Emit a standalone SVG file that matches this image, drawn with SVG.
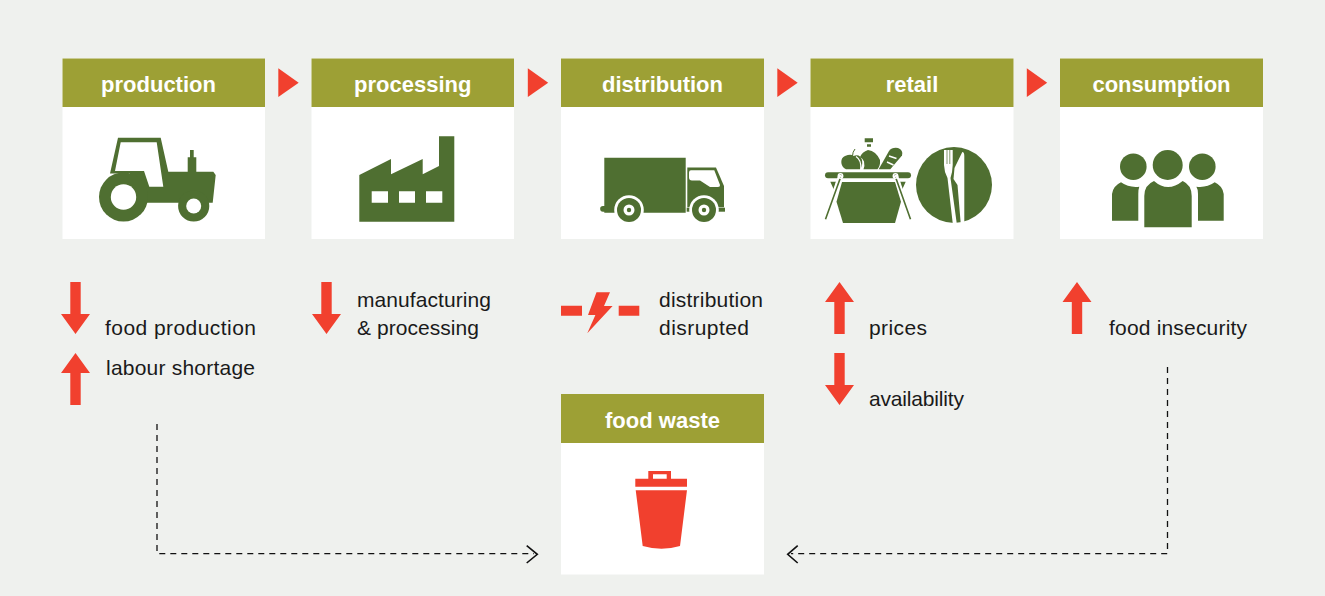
<svg xmlns="http://www.w3.org/2000/svg" width="1325" height="596" viewBox="0 0 1325 596">
<style>
.card{fill:#fff}
.hd{fill:#9da035}
.ht{font:bold 22px "Liberation Sans",Arial,sans-serif;fill:#fff;text-anchor:middle}
.lb{font:21px "Liberation Sans",Arial,sans-serif;fill:#1a1a1a}
.g{fill:#4f6f31}
.r{fill:#f1402e}
.w{fill:#fff}
.d{fill:none;stroke:#111;stroke-width:1.3;stroke-dasharray:6 5}
.c{fill:none;stroke:#111;stroke-width:1.6}
</style>
<defs>
<path id="down" d="M-5.2,0H5.2V32H14.500L0,52L-14.500,32H-5.200Z"/>
<path id="up" d="M-5.2,52H5.2V20H14.500L0,0L-14.500,20H-5.200Z"/>
</defs>
<rect width="1325" height="596" fill="#eff1ee"/>

<g id="production">
<rect class="card" x="62.500" y="58.500" width="202.500" height="180.500"/>
<rect class="hd" x="62.500" y="58.500" width="202.500" height="48.500"/>
<text class="ht" x="158.500" y="91.500">production</text>
<path class="g" d="M110,173.500L118,137.700H160.700L168.300,171.700H187.700V157.300H190V150H193.700V157.300H196.300V171.700H213.300L215.700,175L212.700,202.700H130V173.500Z"/>
<path class="w" d="M120.700,142.300H156.700L163.300,186.700H149.300L144,171H115Z"/>
<circle class="g" cx="123.500" cy="197" r="24.500"/>
<circle class="w" cx="123.500" cy="197" r="12.700"/>
<circle class="g" cx="193.700" cy="206" r="15.600"/>
<circle class="w" cx="193.700" cy="206" r="7.500"/>
</g>

<g id="processing">
<rect class="card" x="311.500" y="58.500" width="202.500" height="180.500"/>
<rect class="hd" x="311.500" y="58.500" width="202.500" height="48.500"/>
<text class="ht" x="412.700" y="91.500">processing</text>
<path class="g" d="M359.300,175L391,159V174.300L422.700,159V174.300L439,166V136.300H454.300V221.700H359.300Z"/>
<path class="w" d="M371.700,191.300H388V202.700H371.700ZM399,191.300H415V202.700H399ZM426,191.300H442.300V202.700H426Z"/>
</g>

<g id="distribution">
<rect class="card" x="561" y="58.500" width="203" height="180.500"/>
<rect class="hd" x="561" y="58.500" width="203" height="48.500"/>
<text class="ht" x="662.500" y="91.500">distribution</text>
<path class="g" d="M604.300,157.700H685.700V212.700H604.300V211.700H603A2.800,2.800 0 0 1 603,206H604.300Z"/>
<path class="g" d="M687.300,167.500H716L724,186V207.300H687.300Z"/>
<path class="w" d="M691,170.300H714.300L720,185Q720.300,187 718,187H710L700,180.500H692Q689,180.500 689,177.500V172.500Q689,170.300 691,170.300Z"/>
<rect class="g" x="686.700" y="207.700" width="38.300" height="4"/>
<circle class="w" cx="629" cy="210" r="14.800"/>
<circle class="g" cx="629" cy="210" r="12"/>
<circle class="w" cx="629" cy="210" r="5.500"/>
<circle class="g" cx="629" cy="210" r="2.200"/>
<circle class="w" cx="704" cy="210" r="14.800"/>
<circle class="g" cx="704" cy="210" r="12"/>
<circle class="w" cx="704" cy="210" r="5.500"/>
<circle class="g" cx="704" cy="210" r="2.200"/>
</g>

<g id="retail">
<rect class="card" x="810.500" y="58.500" width="203" height="180.500"/>
<rect class="hd" x="810.500" y="58.500" width="203" height="48.500"/>
<text class="ht" x="912" y="91.500">retail</text>
<rect class="g" x="825" y="172.300" width="86" height="6" rx="3"/>
<path class="g" d="M842,182H895L901,201.700L895,223H843L836.500,201.700Z"/>
<path class="g" d="M830.300,181.700H836L834,190ZM905.700,181.700H900L902,190Z"/>
<path fill="none" stroke="#fff" stroke-width="4.500" d="M840.700,175L825,219.300M895.500,175L911,219.300"/>
<path fill="none" stroke="#4f6f31" stroke-width="1.600" d="M840.700,177L825.500,219.300M895.500,177L910.500,219.300"/>
<circle fill="none" stroke="#fff" stroke-width="1.500" cx="840.500" cy="176" r="2.200"/>
<circle fill="none" stroke="#fff" stroke-width="1.500" cx="895.500" cy="176" r="2.200"/>
<path class="g" d="M845,156Q851,153.500 853.500,156Q860,153.500 862,160Q863,166 860,169.300H846Q841.300,167 841.300,162Q841.300,157.500 845,156Z"/>
<path fill="none" stroke="#4f6f31" stroke-width="1" d="M852.500,156Q852.500,152 855,149"/>
<path fill="none" stroke="#fff" stroke-width="1.200" d="M856,156.500Q861.500,160 860.800,169"/>
<path class="g" d="M868,150Q876,151 880,160Q880.500,166 877.500,169.300H863.500Q865,166 864,161.500Q862.500,158 860,157Q862,152 868,150Z"/>
<path class="g" d="M864.700,138.300H873V142.300H864.700ZM867,144.300H871V146.700H867Z"/>
<path class="g" d="M878.700,169.300L889,151Q892,147 898,148Q903.500,150 902,155.500L890.300,169.300Z"/>
<path fill="none" stroke="#fff" stroke-width="1.500" d="M889,156L896.500,158.500M887,162L893.500,165"/>
<circle class="g" cx="954" cy="185" r="38"/>
<path class="w" d="M944,150H952.700V165Q952.500,172 950.500,178L956.700,223H952.700L947.500,178Q944.200,172 944,165Z"/>
<path fill="none" stroke="#4f6f31" stroke-width="0.700" d="M947,150V164M949.800,150V164"/>
<path class="w" d="M962.300,152Q964.300,152 964.300,156V223H960.700L957.500,185L953.500,179L954.500,168Z"/>
</g>

<g id="consumption">
<rect class="card" x="1060" y="58.500" width="203" height="180.500"/>
<rect class="hd" x="1060" y="58.500" width="203" height="48.500"/>
<text class="ht" x="1161.500" y="91.500">consumption</text>
<circle class="g" cx="1133.300" cy="166.700" r="13.300"/>
<circle class="g" cx="1167.700" cy="165" r="15"/>
<circle class="g" cx="1202.300" cy="166.700" r="13.300"/>
<path class="g" d="M1121,182.300Q1129,188 1139.300,186.700Q1138.300,189 1138.300,194V220.700H1112V194Q1113,186 1121,182.300Z"/>
<path class="g" d="M1214.700,182.300Q1206.700,188 1196.400,186.700Q1198,189 1198,194V220.700H1223.700V194Q1222.700,186 1214.700,182.300Z"/>
<path class="g" d="M1154,181Q1167.700,193 1182.700,181Q1191.700,185 1191.700,196V227.300H1144.300V196Q1144.300,185 1154,181Z"/>
</g>

<g id="food-waste">
<rect class="card" x="561" y="394" width="203" height="180.500"/>
<rect class="hd" x="561" y="394" width="203" height="49"/>
<text class="ht" x="662.500" y="427.500">food waste</text>
<path class="r" d="M648.300,471H671V478.700H687V486.700H635.300V478.700H648.300ZM653,474.300V478.700H666.700V474.300Z" fill-rule="evenodd"/>
<path class="r" d="M635.700,490.300H687L680,546Q661.700,551.500 642.700,546Z"/>
</g>

<g id="connectors">
<path class="r" d="M278.300,68.300L298.700,82.700L278.300,97Z"/>
<path class="r" d="M527.800,68.300L548.200,82.700L527.800,97Z"/>
<path class="r" d="M777.300,68.300L797.700,82.700L777.300,97Z"/>
<path class="r" d="M1026.800,68.300L1047.200,82.700L1026.800,97Z"/>
<path class="d" d="M157,424V553.700H534"/>
<path class="c" d="M526.700,545.700L537.300,554.300L526.700,563"/>
<path class="d" d="M1167.500,367V553.700H791"/>
<path class="c" d="M797.700,545.700L787.700,554.300L797.700,563"/>
</g>

<g id="effects">
<use class="r" href="#down" x="75.500" y="282"/>
<text class="lb" x="105" y="335" textLength="151">food production</text>
<use class="r" href="#up" x="75.500" y="353"/>
<text class="lb" x="106" y="375" textLength="149">labour shortage</text>
<use class="r" href="#down" x="326.500" y="282"/>
<text class="lb" x="357" y="307" textLength="134">manufacturing</text>
<text class="lb" x="357" y="335" textLength="122">&amp; processing</text>
<path class="r" d="M561,305.700H582V315.700H561ZM618.700,305.700H639.300V315.700H618.700Z"/>
<path class="r" d="M596.500,292.300H610L604,306H612.600L587.300,333.300L595.400,315H588Z"/>
<text class="lb" x="659" y="307" textLength="104">distribution</text>
<text class="lb" x="659" y="335" textLength="90">disrupted</text>
<use class="r" href="#up" x="839.500" y="282"/>
<text class="lb" x="869" y="335" textLength="58">prices</text>
<use class="r" href="#down" x="839.500" y="353"/>
<text class="lb" x="869" y="406" textLength="95">availability</text>
<use class="r" href="#up" x="1077" y="282"/>
<text class="lb" x="1109" y="335" textLength="138">food insecurity</text>
</g>
</svg>
